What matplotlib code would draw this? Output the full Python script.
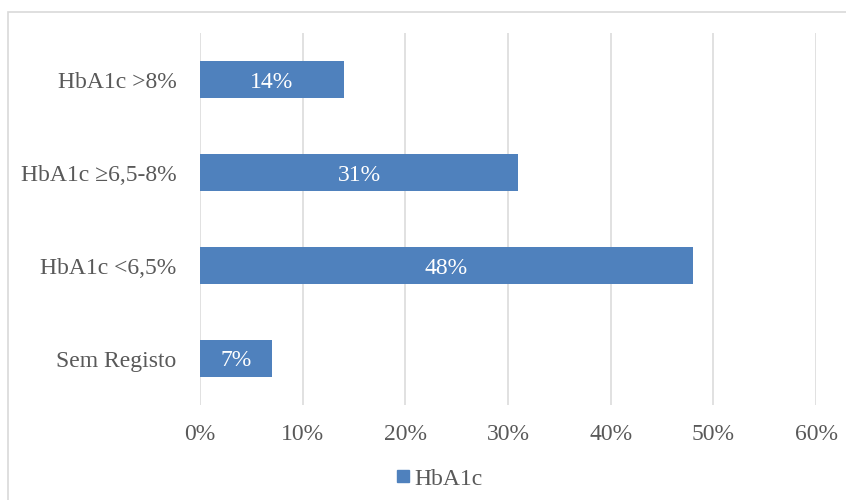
import matplotlib.pyplot as plt
import matplotlib.patches as mpatches
from matplotlib.lines import Line2D

categories = ['HbA1c >8%', 'HbA1c \u22656,5-8%', 'HbA1c <6,5%', 'Sem Registo']
values = [14, 31, 48, 7]
xticks = [0, 10, 20, 30, 40, 50, 60]
series_name = 'HbA1c'

bar_color = '#4F81BD'
text_color = '#595959'
plt.rcParams['font.family'] = ['Liberation Serif', 'DejaVu Serif']

fig = plt.figure(figsize=(8.46, 5.0), dpi=100)
ax = fig.add_axes([200 / 846, 95 / 500, 616 / 846, 372 / 500])

# chart area border (only left/top visible in the crop)
fig.patches.append(mpatches.Rectangle((8 / 846, -0.1), 1.2, (488 / 500) + 0.1,
                                      transform=fig.transFigure, fill=False,
                                      edgecolor='#D9D9D9', linewidth=1.2))

pos = list(range(len(categories)))
bars = ax.barh(pos, values, height=0.39, color=bar_color, zorder=3)
for b, v in zip(bars, values):
    ax.text(v / 2, b.get_y() + b.get_height() / 2, f'{v}%', color='white',
            ha='center', va='center_baseline', fontsize=17, zorder=4)

ax.set_xlim(0, 60)
ax.set_ylim(3.5, -0.5)
ax.set_xticks(xticks)
ax.set_xticklabels([f'{t}%' for t in xticks])
ax.set_yticks(pos)
ax.set_yticklabels(categories)
ax.tick_params(axis='both', length=0, labelsize=17, labelcolor=text_color)
ax.tick_params(axis='x', pad=14)
ax.tick_params(axis='y', pad=17)
ax.grid(axis='x', color='#D9D9D9', linewidth=1.1, zorder=0)
for s in ax.spines.values():
    s.set_visible(False)

handle = Line2D([], [], marker='s', linestyle='none', color=bar_color, markersize=8)
fig.legend([handle], [series_name], loc='center', bbox_to_anchor=(438 / 846, 1 - 479 / 500),
           frameon=False, fontsize=17, labelcolor=text_color, handletextpad=0.1,
           handlelength=0.8)

fig.savefig('out.png', dpi=100)
